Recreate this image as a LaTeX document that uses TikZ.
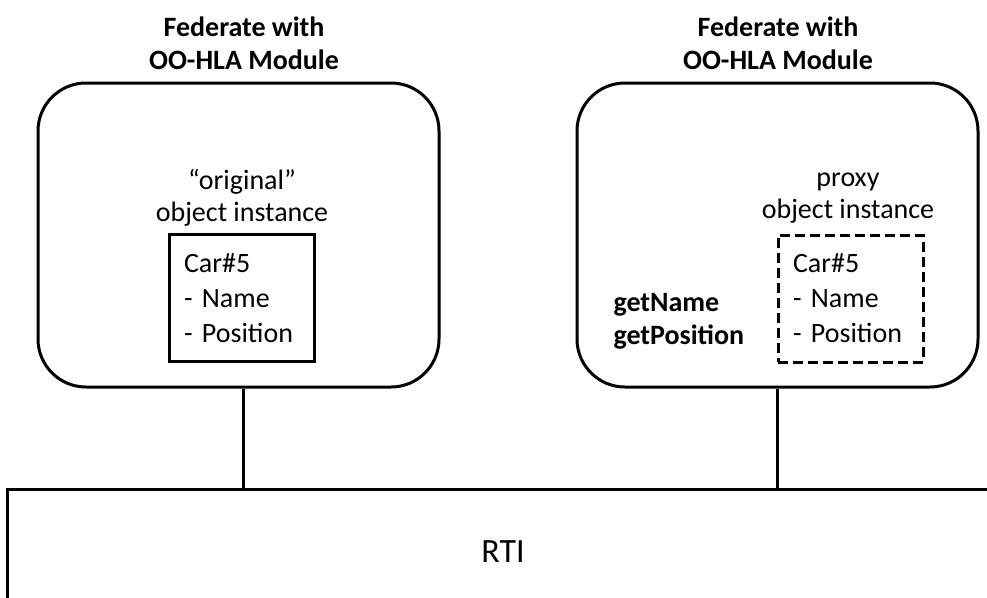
\documentclass[tikz,border=0pt]{standalone}
\usepackage{fontspec}
\setmainfont{Carlito}
\usepackage{tikz}

\begin{document}
\begin{tikzpicture}[x=1pt,y=-1pt,line width=3pt,
    fedbox/.style={draw,rounded corners=48pt,minimum width=401pt,minimum height=304pt,inner sep=0pt},
    objbox/.style={draw,minimum width=145pt,minimum height=127pt,inner xsep=15pt,inner ysep=0pt,
      text width=115pt,align=left,font=\fontsize{28}{35}\selectfont},
    proxybox/.style={objbox,dash pattern=on 10pt off 5pt},
    caption/.style={inner sep=0pt,align=center,font=\fontsize{28}{32}\selectfont},
    title/.style={inner sep=0pt,align=center,font=\fontsize{28}{33}\selectfont\bfseries}]
          \useasboundingbox (0,0) rectangle (987,597);

          % federates
          \node[fedbox] (fedL) at (238.5,235) {};
          \node[fedbox] (fedR) at (777.5,235) {};
          \node[title] (titleL) at (244,43) {Federate with\\OO-HLA Module};
          \node[title] (titleR) at (778,43) {Federate with\\OO-HLA Module};

          % object instances
          \node[caption] (capL) at (242,198) {“original”\\object instance};
          \node[caption] (capR) at (848,198) {proxy\\object instance};
          \node[objbox] (carL) at (241.5,298) {Car\#5\\- Name\\- Position};
          \node[proxybox] (carR) at (850.5,298.5) {Car\#5\\- Name\\- Position};
          \node[title,anchor=west,align=left] (getters) at (612,321) {getName\\getPosition};

          % RTI (runs off the page)
          \coordinate (rtiL) at (243,489);
          \coordinate (rtiR) at (777,489);
          \draw (7,610) -- (7,489) -- (995,489);
          \node[inner sep=0pt,font=\fontsize{34}{40}\selectfont] (rti) at (503,552) {RTI};

          \draw (fedL.south -| rtiL) -- (rtiL);
          \draw (fedR.south -| rtiR) -- (rtiR);
        \end{tikzpicture}
\end{document}
